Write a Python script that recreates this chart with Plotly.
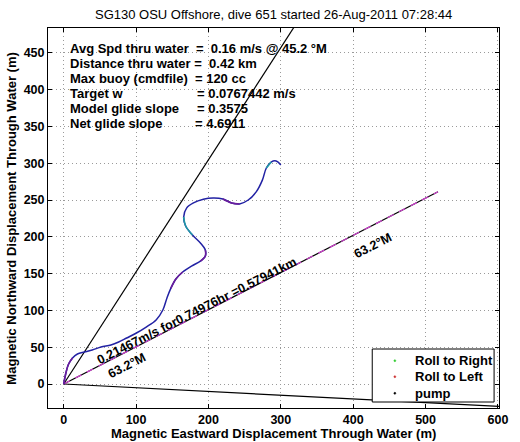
import plotly.graph_objects as go

# ---- data ----
track_x = [0, 2.7, 6.8, 12.2, 19, 28.5, 39.4, 51.6, 65.2, 76, 87, 100.5, 114, 127.7, 137,
           142.7, 148, 155, 164.4, 176.6, 188.9, 195.7, 195.7, 188.9, 178, 168.5, 165.8,
           169.8, 179.3, 193, 206.5, 220, 232, 243, 255, 266, 274.5, 280, 286.7, 293.5, 300]
track_y = [0, 13.6, 27.2, 35.3, 40.8, 43.5, 46.2, 50.3, 53, 57, 62.5, 69.3, 77.4, 87, 100.5,
           117, 130, 142.7, 152.2, 160.3, 167, 174, 182, 191.6, 202.4, 214.7, 227,
           239, 246, 251, 252.7, 251.4, 246, 244.6, 250, 261, 277, 293.5, 301.6, 303, 297.6]
roll_left_segments = [(0, 3), (16, 18), (20, 22), (31, 33)]
roll_right_segments = [(24, 26), (37, 38)]

model_glide_x = [0, 340]
model_glide_y = [0, 518]
lower_line_x = [0, 700]
lower_line_y = [0, -35.4]
net_x = [0, 517.2]
net_y = [0, 261.2]

x_ticks = [0, 100, 200, 300, 400, 500, 600]
y_ticks = [0, 50, 100, 150, 200, 250, 300, 350, 400, 450]

title = "SG130 OSU Offshore, dive 651 started 26-Aug-2011 07:28:44"
info_left = ["Avg Spd thru water  =  0.16 m/s @ 45.2 °M",
             "Distance thru water =  0.42 km",
             "Max buoy (cmdfile)  = 120 cc",
             "Target w",
             "Model glide slope",
             "Net glide slope"]
info_right = ["", "", "", "= 0.0767442 m/s", "= 0.3575", "= 4.6911"]
info_right_x = [0, 0, 0, 181, 182, 178]
net_label = "0.21467m/s for0.74976hr =0.57941km"
heading_label = "63.2°M"

legend_names = ["Roll to Right", "Roll to Left", "pump"]
legend_colors = ["#33cc33", "#cc3333", "black"]

FONT = "Liberation Sans, Arial, sans-serif"
BLUE = "#2222a4"
PURPLE = "#6a1c9c"
TEAL = "#1f9aa6"

# plot-area geometry (pixels) used to place paper-referenced decorations
L, R, T, B = 48, 507, 28, 408
PW, PH = R - L, B - T


def px(xp):
    return (xp - L) / PW


def py(yp):
    return (B - yp) / PH


fig = go.Figure()

fig.add_trace(go.Scatter(x=model_glide_x, y=model_glide_y, mode="lines",
                         line=dict(color="black", width=1.2), showlegend=False))
fig.add_trace(go.Scatter(x=lower_line_x, y=lower_line_y, mode="lines",
                         line=dict(color="black", width=1.2), showlegend=False))
fig.add_trace(go.Scatter(x=net_x, y=net_y, mode="lines",
                         line=dict(color="black", width=1.2), showlegend=False))
fig.add_trace(go.Scatter(x=net_x, y=net_y, mode="lines",
                         line=dict(color="#d040d0", width=1.2, dash="7px,6px"), showlegend=False))

fig.add_trace(go.Scatter(x=track_x, y=track_y, mode="lines",
                         line=dict(color=BLUE, width=1.5, shape="spline"), showlegend=False))
for a, b in roll_left_segments:
    fig.add_trace(go.Scatter(x=track_x[a:b + 1], y=track_y[a:b + 1], mode="lines",
                             line=dict(color=PURPLE, width=1.6, shape="spline"), showlegend=False))
for a, b in roll_right_segments:
    fig.add_trace(go.Scatter(x=track_x[a:b + 1], y=track_y[a:b + 1], mode="lines",
                             line=dict(color=TEAL, width=1.6, shape="spline"), showlegend=False))

NB = "\u00a0"


def keep_spaces(s):
    return s.replace(" ", NB)


TXT = dict(family=FONT, size=13, color="black", weight="bold")
ann = []
y0 = 456.5
for i, t in enumerate(info_left):
    yy = y0 - i * 20.4
    ann.append(dict(x=6.5, y=yy, xref="x", yref="y", text=keep_spaces(t), showarrow=False,
                    xanchor="left", yanchor="middle", font=TXT))
    if info_right[i]:
        ann.append(dict(x=info_right_x[i], y=yy, xref="x", yref="y", text=info_right[i],
                        showarrow=False, xanchor="left", yanchor="middle", font=TXT))

ROT = dict(family=FONT, size=12.7, color="black", weight="bold")
ann.append(dict(x=184, y=99, xref="x", yref="y", text=net_label, showarrow=False,
                textangle=-26.8, font=ROT))
ann.append(dict(x=87, y=24, xref="x", yref="y", text=heading_label, showarrow=False,
                textangle=-26.8, font=ROT))
ann.append(dict(x=427, y=187, xref="x", yref="y", text=heading_label, showarrow=False,
                textangle=-26.8, font=ROT))

# title & axis titles
ann.append(dict(x=0.5, y=py(14), xref="paper", yref="paper", text=title, showarrow=False,
                yanchor="middle", xanchor="center",
                font=dict(family=FONT, size=13, color="black")))
ann.append(dict(x=0.5, y=py(433), xref="paper", yref="paper",
                text="Magnetic Eastward Displacement Through Water (m)",
                showarrow=False, xanchor="center", yanchor="middle",
                font=dict(family=FONT, size=13, color="black", weight="bold")))
ann.append(dict(x=px(10), y=0.5, xref="paper", yref="paper",
                text="Magnetic Northward Displacement Through Water (m)",
                showarrow=False, xanchor="center", yanchor="middle", textangle=-90,
                font=dict(family=FONT, size=13, color="black", weight="bold")))

# manual legend (MATLAB-style compact box)
shapes = [dict(type="rect", xref="paper", yref="paper",
               x0=px(378), x1=px(502), y0=py(402), y1=py(349),
               line=dict(color="black", width=1), fillcolor="white", layer="above")]
leg_rows = [360.7, 376.7, 393.3]
for name, col, yr in zip(legend_names, legend_colors, leg_rows):
    shapes.append(dict(type="circle", xref="paper", yref="paper",
                       x0=px(400), x1=px(402), y0=py(yr + 1), y1=py(yr - 1),
                       line=dict(color=col, width=0.5), fillcolor=col, layer="above"))
    ann.append(dict(x=px(419), y=py(yr), xref="paper", yref="paper", text=name,
                    showarrow=False, xanchor="left", yanchor="middle",
                    font=dict(family=FONT, size=13, color="black", weight="bold")))

axis_common = dict(showline=True, linecolor="black", linewidth=1, mirror="ticks",
                   ticks="inside", ticklen=4, tickcolor="black",
                   showgrid=True, gridcolor="#9a9a9a", griddash="1px,3px", gridwidth=1,
                   zeroline=False,
                   tickfont=dict(family=FONT, size=12.5, color="black", weight="bold"))

fig.update_layout(
    width=520, height=442,
    margin=dict(l=L, r=520 - R, t=T, b=442 - B),
    paper_bgcolor="white", plot_bgcolor="white",
    xaxis=dict(range=[-21.7, 601.5], tickvals=x_ticks, **axis_common),
    yaxis=dict(range=[-32.6, 483.7], tickvals=y_ticks, **axis_common),
    showlegend=False,
    annotations=ann,
    shapes=shapes,
)

fig.write_html("out.html", config={"displayModeBar": False},
               post_script="document.body.style.margin='0px';")
